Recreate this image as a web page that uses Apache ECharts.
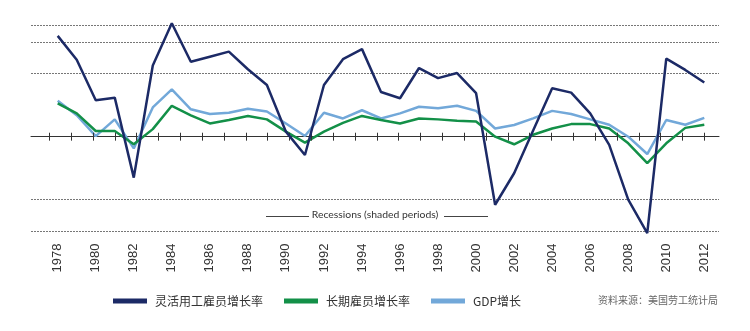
<!DOCTYPE html>
<html>
<head>
<meta charset="utf-8">
<script src="https://cdn.jsdelivr.net/npm/echarts@6/dist/echarts.min.js"></script>
<style>html,body{margin:0;padding:0;background:#fff;}#c{width:750px;height:331px;}</style>
</head>
<body>
<div id="c"></div>
<script>
const years = [1978,1979,1980,1981,1982,1983,1984,1985,1986,1987,1988,1989,1990,1991,1992,1993,1994,1995,1996,1997,1998,1999,2000,2001,2002,2003,2004,2005,2006,2007,2008,2009,2010,2011,2012];
const tempWorkers = [16.0,12.2,5.8,6.2,-6.5,11.3,18.0,11.9,12.7,13.5,10.7,8.2,0.8,-2.9,8.2,12.3,13.9,7.1,6.1,10.9,9.3,10.1,6.9,-10.8,-5.8,1.0,7.7,7.0,3.7,-1.3,-10.0,-15.3,12.4,10.6,8.6];
const permanent = [5.3,3.7,0.9,0.9,-1.2,1.2,4.9,3.4,2.1,2.65,3.3,2.75,0.8,-0.95,0.8,2.2,3.3,2.65,2.1,2.9,2.75,2.55,2.4,0.0,-1.2,0.3,1.3,2.0,2.0,1.3,-1.05,-4.2,-1.05,1.4,1.9];
const gdp = [5.7,3.4,0.1,2.75,-1.85,4.65,7.5,4.35,3.6,3.8,4.45,4.0,2.1,0.1,3.8,2.9,4.2,2.9,3.7,4.75,4.5,4.9,4.1,1.3,1.85,2.9,4.1,3.6,2.75,1.9,0.0,-2.75,2.65,1.9,3.0];
const labelYears = [1978,1980,1982,1984,1986,1988,1990,1992,1994,1996,1998,2000,2002,2004,2006,2008,2010,2012];
const gridValues = [17.7,15,10,-10,-15];
const seriesNames = ['灵活用工雇员增长率','长期雇员增长率','GDP增长'];
const colors = ['#1c2a66','#139048','#72a8d9'];

const xMin = 1976.596, xMax = 2012.773;
const zeroTicks = [];
for (let i = 0; i <= 30; i++) zeroTicks.push(1977.558 + i * (2012 - 1977.558) / 30);
const tickHalf = 0.63;

const pairs = arr => years.map((y, i) => [y, arr[i]]);

const chart = echarts.init(document.getElementById('c'), null, {renderer: 'canvas'});
chart.setOption({
  animation: false,
  backgroundColor: '#fff',
  grid: {left: 31, right: 31, top: 10.7, bottom: 93.5, containLabel: false},
  xAxis: [{
    type: 'value', min: xMin, max: xMax, position: 'bottom',
    axisLine: {show: false, onZero: false}, axisTick: {show: false}, splitLine: {show: false},
    axisLabel: {customValues: labelYears, rotate: 90, margin: 6, color: '#333', fontSize: 13,
      fontFamily: 'Liberation Sans, Arial, sans-serif', formatter: v => String(v)}
  }, {
    type: 'value', min: xMin, max: xMax, position: 'top',
    axisLine: {show: true, onZero: true, lineStyle: {color: '#333', width: 1}},
    axisTick: {show: false},
    axisLabel: {show: false}, splitLine: {show: false}
  }],
  yAxis: {type: 'value', min: -16, max: 20, show: false, splitLine: {show: false}},
  legend: {
    top: 290, left: 108, itemWidth: 34, itemHeight: 5, itemGap: 21, icon: 'rect',
    textStyle: {fontSize: 12, color: '#333', fontFamily: 'Noto Sans CJK SC, sans-serif', padding: [0, 0, 0, 3]},
    data: seriesNames
  },
  graphic: [
    {type: 'text', left: 'center', top: 209.5, style: {text: 'Recessions (shaded periods)', fill: '#333', font: '10.4px Lato, sans-serif'}},
    {type: 'line', shape: {x1: 266, y1: 216.5, x2: 309, y2: 216.5}, style: {stroke: '#444', lineWidth: 1}},
    {type: 'line', shape: {x1: 444, y1: 216.5, x2: 488, y2: 216.5}, style: {stroke: '#444', lineWidth: 1}},
    {type: 'text', right: 32, top: 295, style: {text: '资料来源：美国劳工统计局', fill: '#666', font: '10px "Noto Sans CJK SC", sans-serif'}}
  ],
  series: [
    {name: seriesNames[0], type: 'line', data: pairs(tempWorkers), symbol: 'none', z: 5,
      lineStyle: {color: colors[0], width: 2.5}, itemStyle: {color: colors[0]}},
    {name: seriesNames[1], type: 'line', data: pairs(permanent), symbol: 'none', z: 4,
      lineStyle: {color: colors[1], width: 2.5}, itemStyle: {color: colors[1]}},
    {name: seriesNames[2], type: 'line', data: pairs(gdp), symbol: 'none', z: 3,
      lineStyle: {color: colors[2], width: 2.5}, itemStyle: {color: colors[2]},
      markLine: {silent: true, symbol: 'none', label: {show: false},
        lineStyle: {color: '#777', type: [2, 1], width: 1},
        data: gridValues.map(v => ({yAxis: v})).concat(
          zeroTicks.map(t => [
            {coord: [t, -tickHalf], lineStyle: {color: '#333', type: 'solid', width: 1}},
            {coord: [t, tickHalf]}
          ]))}}
  ]
});
</script>
</body>
</html>
